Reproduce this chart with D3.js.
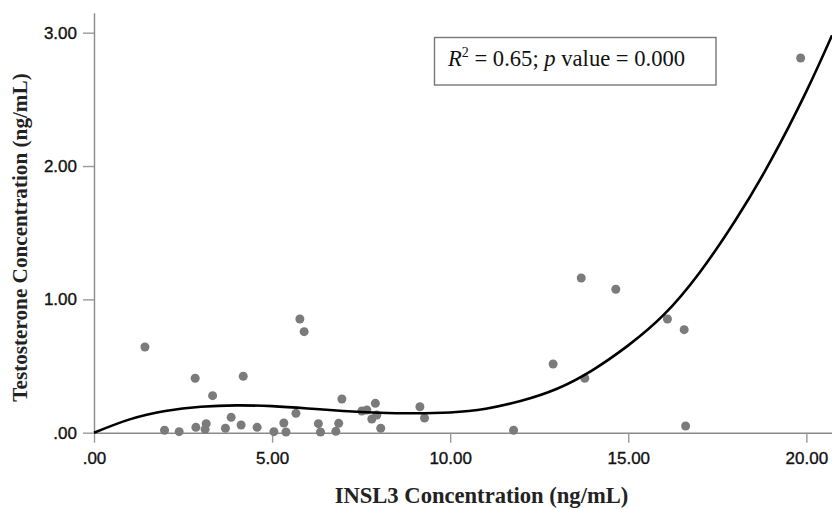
<!DOCTYPE html>
<html>
<head>
<meta charset="utf-8">
<script src="https://cdn.jsdelivr.net/npm/d3@7"></script>
<style>
  html, body { margin: 0; padding: 0; background: #fff; }
  #stage { width: 832px; height: 509px; }
</style>
</head>
<body>
<div id="stage"></div>
<script>
// scatter values
const insl3 = [1.43, 2.84, 4.19, 3.33, 3.85, 3.15, 3.12, 2.86, 1.98, 2.39, 3.69, 4.13, 4.58, 5.05, 5.33,
  5.39, 5.67, 5.78, 5.90, 6.30, 6.36, 6.79, 6.87, 6.96, 7.52, 7.66, 7.90, 7.80, 7.94, 8.05,
  9.15, 9.28, 11.78, 12.89, 13.78, 13.68, 14.65, 16.10, 16.57, 16.61, 19.84];
const testosterone = [0.643, 0.408, 0.423, 0.278, 0.115, 0.068, 0.025, 0.04, 0.018, 0.008, 0.033, 0.058, 0.04, 0.008, 0.073,
  0.005, 0.145, 0.853, 0.758, 0.068, 0.005, 0.01, 0.07, 0.253, 0.163, 0.17, 0.22, 0.103, 0.133, 0.033,
  0.195, 0.11, 0.018, 0.515, 0.408, 1.16, 1.076, 0.853, 0.773, 0.05, 2.81];

// fitted cubic curve, sampled from the figure
const fitX = [0, 1, 2, 3, 4, 5, 6, 7, 8, 9, 10, 11, 12, 13, 14, 15, 16, 17, 18, 19, 20, 20.72];
const fitY = [0, 0.10, 0.163, 0.195, 0.205, 0.199, 0.182, 0.163, 0.150, 0.146, 0.152, 0.18, 0.24, 0.33,
  0.47, 0.655, 0.885, 1.20, 1.59, 2.04, 2.56, 2.98];

const xTicks = [0, 5, 10, 15, 20];
const xTickLabels = [".00", "5.00", "10.00", "15.00", "20.00"];
const yTicks = [0, 1, 2, 3];
const yTickLabels = [".00", "1.00", "2.00", "3.00"];

const xTitle = "INSL3 Concentration (ng/mL)";
const yTitle = "Testosterone Concentration (ng/mL)";

const width = 832;
const height = 509;

const svg = d3
  .select("#stage")
  .append("svg")
  .attr("width", width)
  .attr("height", height)
  .attr("viewBox", `0 0 ${width} ${height}`);

const x = d3.scaleLinear().domain([0, 20.72]).range([94, 832]);
const y = d3.scaleLinear().domain([0, 3.15]).range([432.7, 12.7]);

const tickFont = "Arial, 'Liberation Sans', sans-serif";
const serif = "'Times New Roman', 'Liberation Serif', serif";

// axes
const xAxis = svg
  .append("g")
  .attr("transform", `translate(0,${y(0)})`)
  .call(
    d3.axisBottom(x)
      .tickValues(xTicks)
      .tickFormat((d, i) => xTickLabels[i])
      .tickSize(10)
      .tickSizeOuter(0)
      .tickPadding(9)
  );

const yAxis = svg
  .append("g")
  .attr("transform", `translate(${x(0)},0)`)
  .call(
    d3.axisLeft(y)
      .tickValues(yTicks)
      .tickFormat((d, i) => yTickLabels[i])
      .tickSize(11)
      .tickSizeOuter(0)
      .tickPadding(6)
  );

[xAxis, yAxis].forEach((g) => {
  g.select(".domain").attr("stroke", "#8a8a8a").attr("stroke-width", 1.4);
  g.selectAll(".tick line").attr("stroke", "#999").attr("stroke-width", 1.4);
  g.selectAll(".tick text")
    .attr("font-family", tickFont)
    .attr("font-size", "17px")
    .attr("fill", "#111")
    .attr("stroke", "#111")
    .attr("stroke-width", 0.35);
});

// points
svg
  .append("g")
  .selectAll("circle")
  .data(insl3.map((v, i) => [v, testosterone[i]]))
  .join("circle")
  .attr("cx", (d) => x(d[0]))
  .attr("cy", (d) => y(d[1]))
  .attr("r", 4.5)
  .attr("fill", "#7b7b7b");

// fit line
const line = d3
  .line()
  .x((d) => x(d[0]))
  .y((d) => y(d[1]))
  .curve(d3.curveNatural);

svg
  .append("path")
  .datum(fitX.map((v, i) => [v, fitY[i]]))
  .attr("d", line)
  .attr("fill", "none")
  .attr("stroke", "#000")
  .attr("stroke-width", 2.6);

// annotation box
svg
  .append("rect")
  .attr("x", 434.5)
  .attr("y", 37.5)
  .attr("width", 281.5)
  .attr("height", 47.5)
  .attr("fill", "#fff")
  .attr("stroke", "#777")
  .attr("stroke-width", 1.4);

const note = svg
  .append("text")
  .attr("x", 448)
  .attr("y", 66)
  .attr("font-family", serif)
  .attr("font-size", "22.6px")
  .attr("fill", "#111");
note.append("tspan").attr("font-style", "italic").text("R");
note.append("tspan").attr("font-size", "14px").attr("dy", -9).text("2");
note.append("tspan").attr("dy", 9).text(" = 0.65; ");
note.append("tspan").attr("font-style", "italic").text("p");
note.append("tspan").text(" value = 0.000");

// axis titles
svg
  .append("text")
  .attr("x", 481.5)
  .attr("y", 503)
  .attr("text-anchor", "middle")
  .attr("font-family", serif)
  .attr("font-weight", "bold")
  .attr("font-size", "22.6px")
  .attr("fill", "#222")
  .text(xTitle);

svg
  .append("text")
  .attr("transform", "translate(27,237.5) rotate(-90)")
  .attr("text-anchor", "middle")
  .attr("font-family", serif)
  .attr("font-weight", "bold")
  .attr("font-size", "21.2px")
  .attr("fill", "#222")
  .text(yTitle);
</script>
</body>
</html>
